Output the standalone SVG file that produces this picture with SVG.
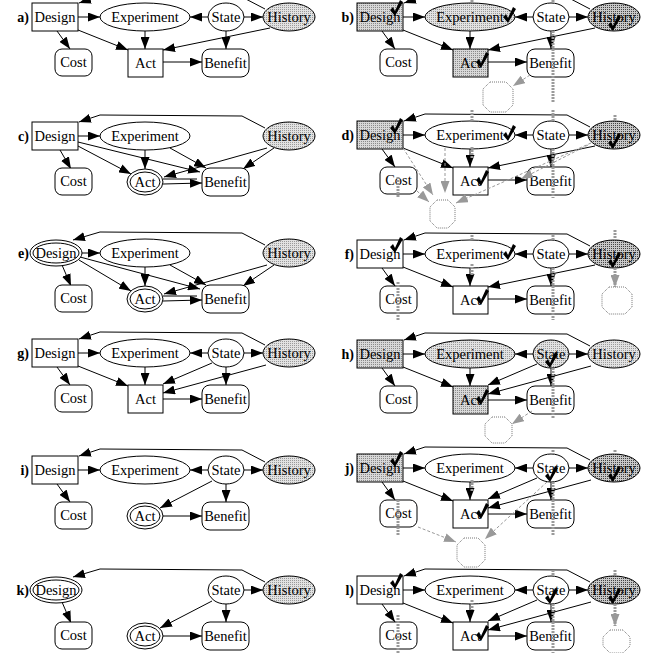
<svg xmlns="http://www.w3.org/2000/svg" width="660" height="653" viewBox="0 0 660 653">
<style>
.n{fill:#fff;stroke:#000;stroke-width:1}
.t{font-family:"Liberation Serif","Times New Roman",serif;font-size:14.5px;text-anchor:middle;fill:#000}
.lb{font-family:"Liberation Serif","Times New Roman",serif;font-size:14px;font-weight:bold;text-anchor:end;fill:#000}
.e{fill:none;stroke:#000;stroke-width:1;marker-end:url(#ah)}
.p{fill:none;stroke:#000;stroke-width:1}
.gb{fill:none;stroke:#9a9a9a;stroke-width:3;stroke-dasharray:2 1}
.gba{fill:none;stroke:#9a9a9a;stroke-width:3;stroke-dasharray:2 1;marker-end:url(#ag)}
.gd{fill:none;stroke:#999;stroke-width:1;stroke-dasharray:3 2;marker-end:url(#ag)}
.oc{fill:#fff;stroke:#777;stroke-width:1;stroke-dasharray:1 1}
</style>
<defs>
<pattern id="pl" width="2" height="2" patternUnits="userSpaceOnUse"><rect width="2" height="2" fill="#e2e2e2"/><rect width="1" height="1" fill="#9a9a9a"/></pattern>
<pattern id="pd" width="2" height="2" patternUnits="userSpaceOnUse"><rect width="2" height="2" fill="#c8c8c8"/><rect width="1" height="1" fill="#444"/></pattern>
<pattern id="pm" width="2" height="2" patternUnits="userSpaceOnUse"><rect width="2" height="2" fill="#d8d8d8"/><rect width="1" height="1" fill="#8a8a8a"/></pattern>
<marker id="ah" viewBox="0 0 12 9" markerWidth="12" markerHeight="9" refX="12" refY="4.5" orient="auto" markerUnits="userSpaceOnUse"><path d="M0,0 L12,4.5 L0,9 z" fill="#000"/></marker>
<marker id="ag" viewBox="0 0 12 9" markerWidth="12" markerHeight="9" refX="12" refY="4.5" orient="auto" markerUnits="userSpaceOnUse"><path d="M0,0 L12,4.5 L0,9 z" fill="#999"/></marker>
<path id="ck" d="M0,3 L3,0 L5,4 L10,-7 L13,-5 L5,9 Z"/>
</defs>
<rect width="660" height="653" fill="#fff"/>

<!-- a -->
<g id="panel-a" transform="translate(0,17)">
<text class="lb" x="29" y="5">a)</text>
<g id="a-connectors">
<path class="e" d="M265,-8 L242,-20 L100,-21 L79,-14"/>
<path class="e" d="M78,0 L100,0"/>
<path class="e" d="M208,0 L190,0"/>
<path class="e" d="M244,0 L263,0"/>
<path class="e" d="M57,14 L70,32"/>
<path class="e" d="M78,13 L128,33"/>
<path class="e" d="M145,14 L145,32"/>
<path class="e" d="M270,11 L163,33"/>
<path class="e" d="M226,14 L226,32"/>
<path class="e" d="M163,45 L202,45"/>
</g>
<g id="a-design"><rect class="n" x="32" y="-14" width="46" height="28"/><text class="t" x="55" y="5">Design</text></g>
<g id="a-experiment"><ellipse class="n" cx="145" cy="0" rx="45" ry="14"/><text class="t" x="145" y="5">Experiment</text></g>
<g id="a-state"><ellipse class="n" cx="226" cy="0" rx="18" ry="14"/><text class="t" x="226" y="5">State</text></g>
<g id="a-history"><ellipse class="n" cx="289" cy="0" rx="26" ry="14" style="fill:url(#pl)"/><text class="t" x="289" y="5">History</text></g>
<g id="a-cost"><rect class="n" x="55" y="32" width="37" height="27" rx="7"/><text class="t" x="73.5" y="50">Cost</text></g>
<g id="a-act"><rect class="n" x="128" y="32" width="35" height="28"/><text class="t" x="145.5" y="51">Act</text></g>
<g id="a-benefit"><rect class="n" x="202" y="32" width="47" height="28" rx="8"/><text class="t" x="225.5" y="51">Benefit</text></g>
</g>

<!-- b -->
<g id="panel-b" transform="translate(325,17)">
<text class="lb" x="29" y="5">b)</text>
<g id="b-connectors">
<path class="e" d="M265,-8 L242,-20 L100,-21 L79,-14"/>
<path class="e" d="M78,0 L100,0"/>
<path class="e" d="M208,0 L190,0"/>
<path class="e" d="M244,0 L263,0"/>
<path class="e" d="M57,14 L70,32"/>
<path class="e" d="M78,13 L128,33"/>
<path class="e" d="M145,14 L145,32"/>
<path class="e" d="M270,11 L163,33"/>
<path class="e" d="M226,14 L226,32"/>
<path class="e" d="M163,45 L202,45"/>
</g>
<g id="b-design"><rect class="n" x="32" y="-14" width="46" height="28" style="fill:url(#pm)"/><text class="t" x="55" y="5">Design</text><use href="#ck" transform="translate(65,-10)"/></g>
<g id="b-experiment"><ellipse class="n" cx="145" cy="0" rx="45" ry="14" style="fill:url(#pl)"/><text class="t" x="145" y="5">Experiment</text><use href="#ck" transform="translate(178,-3)"/></g>
<g id="b-state"><ellipse class="n" cx="226" cy="0" rx="18" ry="14"/><text class="t" x="226" y="5">State</text></g>
<g id="b-history"><ellipse class="n" cx="289" cy="0" rx="26" ry="14" style="fill:url(#pd)"/><text class="t" x="289" y="5">History</text><use href="#ck" transform="translate(283,5)"/></g>
<g id="b-cost"><rect class="n" x="55" y="32" width="37" height="27" rx="7"/><text class="t" x="73.5" y="50">Cost</text></g>
<g id="b-act"><rect class="n" x="128" y="32" width="35" height="28" style="fill:url(#pm)"/><text class="t" x="145.5" y="51">Act</text><use href="#ck" transform="translate(151,42)"/></g>
<g id="b-benefit"><rect class="n" x="202" y="32" width="47" height="28" rx="8"/><text class="t" x="225.5" y="51">Benefit</text></g>
<g id="b-utility"><polygon class="oc" points="165,65 181,65 188,72 188,88 181,95 165,95 158,88 158,72"/></g>
<g id="b-overlay">
<path class="gb" d="M147,-17 V-14 M228,-17 V-14 M228,14 V86"/>
<path class="gd" d="M205,58 L188,69"/>
</g>
</g>

<!-- c -->
<g id="panel-c" transform="translate(0,136)">
<text class="lb" x="29" y="5">c)</text>
<g id="c-connectors">
<path class="e" d="M265,-8 L242,-20 L100,-21 L79,-14"/>
<path class="e" d="M78,0 L100,0"/>
<path class="e" d="M60,14 L71,33"/>
<path class="e" d="M78,10 L131,38"/>
<path class="e" d="M78,6 L200,36"/>
<path class="e" d="M145,14 L145,33"/>
<path class="e" d="M170,12 L206,32"/>
<path class="e" d="M267,12 L164,41"/>
<path class="e" d="M274,12 L243,33"/>
<path class="p" d="M163,43 L197,43"/>
<path class="e" d="M163,48 L202,47"/>
</g>
<g id="c-design"><rect class="n" x="32" y="-14" width="46" height="28"/><text class="t" x="55" y="5">Design</text></g>
<g id="c-experiment"><ellipse class="n" cx="145" cy="0" rx="45" ry="14"/><text class="t" x="145" y="5">Experiment</text></g>
<g id="c-history"><ellipse class="n" cx="289" cy="0" rx="26" ry="14" style="fill:url(#pl)"/><text class="t" x="289" y="5">History</text></g>
<g id="c-cost"><rect class="n" x="55" y="32" width="37" height="27" rx="7"/><text class="t" x="73.5" y="50">Cost</text></g>
<g id="c-act"><ellipse class="n" cx="145" cy="46" rx="18" ry="13"/><ellipse class="n" cx="145" cy="46" rx="15" ry="10"/><text class="t" x="145" y="51">Act</text></g>
<g id="c-benefit"><rect class="n" x="202" y="32" width="47" height="28" rx="8"/><text class="t" x="225.5" y="51">Benefit</text></g>
</g>

<!-- d -->
<g id="panel-d" transform="translate(325,135)">
<text class="lb" x="29" y="5">d)</text>
<g id="d-connectors">
<path class="e" d="M265,-8 L242,-20 L100,-21 L79,-14"/>
<path class="e" d="M78,0 L100,0"/>
<path class="e" d="M208,0 L190,0"/>
<path class="e" d="M244,0 L263,0"/>
<path class="e" d="M57,14 L70,32"/>
<path class="e" d="M78,13 L128,33"/>
<path class="e" d="M145,14 L145,32"/>
<path class="e" d="M270,11 L163,33"/>
<path class="e" d="M226,14 L226,32"/>
<path class="e" d="M163,45 L202,45"/>
</g>
<g id="d-design"><rect class="n" x="32" y="-14" width="46" height="28" style="fill:url(#pm)"/><text class="t" x="55" y="5">Design</text><use href="#ck" transform="translate(65,-10)"/></g>
<g id="d-experiment"><ellipse class="n" cx="145" cy="0" rx="45" ry="14"/><text class="t" x="145" y="5">Experiment</text><use href="#ck" transform="translate(178,-3)"/></g>
<g id="d-state"><ellipse class="n" cx="226" cy="0" rx="18" ry="14"/><text class="t" x="226" y="5">State</text></g>
<g id="d-history"><ellipse class="n" cx="289" cy="0" rx="26" ry="14" style="fill:url(#pd)"/><text class="t" x="289" y="5">History</text><use href="#ck" transform="translate(283,5)"/></g>
<g id="d-cost"><rect class="n" x="55" y="32" width="37" height="27" rx="7"/><text class="t" x="73.5" y="50">Cost</text></g>
<g id="d-act"><rect class="n" x="128" y="32" width="35" height="28"/><text class="t" x="145.5" y="51">Act</text><use href="#ck" transform="translate(151,42)"/></g>
<g id="d-benefit"><rect class="n" x="202" y="32" width="47" height="28" rx="8"/><text class="t" x="225.5" y="51">Benefit</text></g>
<g id="d-utility"><polygon class="oc" points="112,65 123,65 130,72 130,86 123,93 112,93 105,86 105,72"/></g>
<g id="d-overlay">
<path class="gb" d="M147,-25 V-14 M147,12 V24 M228,-25 V-14 M228,14 V63 M290,-20 V-14 M73,42 V63"/>
<path class="gd" d="M78,13 L108,60"/>
<path class="gd" d="M120,13 L120,58"/>
<path class="gd" d="M92,56 L104,67"/>
<path class="gd" d="M266,8 L131,68"/>
<path class="gd" d="M263,10 L196,44"/>
</g>
</g>

<!-- e -->
<g id="panel-e" transform="translate(0,253)">
<text class="lb" x="29" y="5">e)</text>
<g id="e-connectors">
<path class="e" d="M265,-8 L242,-20 L100,-21 L73,-13"/>
<path class="e" d="M82,0 L100,0"/>
<path class="e" d="M62,12 L71,33"/>
<path class="e" d="M79,7 L131,38"/>
<path class="e" d="M80,4 L200,36"/>
<path class="e" d="M145,14 L145,33"/>
<path class="e" d="M170,12 L206,32"/>
<path class="e" d="M267,12 L164,41"/>
<path class="e" d="M274,12 L243,33"/>
<path class="p" d="M163,43 L197,43"/>
<path class="e" d="M163,48 L202,47"/>
</g>
<g id="e-design"><ellipse class="n" cx="56" cy="0" rx="26" ry="13"/><ellipse class="n" cx="56" cy="0" rx="23" ry="10"/><text class="t" x="56" y="5">Design</text></g>
<g id="e-experiment"><ellipse class="n" cx="145" cy="0" rx="45" ry="14"/><text class="t" x="145" y="5">Experiment</text></g>
<g id="e-history"><ellipse class="n" cx="289" cy="0" rx="26" ry="14" style="fill:url(#pl)"/><text class="t" x="289" y="5">History</text></g>
<g id="e-cost"><rect class="n" x="55" y="32" width="37" height="27" rx="7"/><text class="t" x="73.5" y="50">Cost</text></g>
<g id="e-act"><ellipse class="n" cx="145" cy="46" rx="18" ry="13"/><ellipse class="n" cx="145" cy="46" rx="15" ry="10"/><text class="t" x="145" y="51">Act</text></g>
<g id="e-benefit"><rect class="n" x="202" y="32" width="47" height="28" rx="8"/><text class="t" x="225.5" y="51">Benefit</text></g>
</g>

<!-- f -->
<g id="panel-f" transform="translate(325,254)">
<text class="lb" x="29" y="5">f)</text>
<g id="f-connectors">
<path class="e" d="M265,-8 L242,-20 L100,-21 L79,-14"/>
<path class="e" d="M78,0 L100,0"/>
<path class="e" d="M208,0 L190,0"/>
<path class="e" d="M244,0 L263,0"/>
<path class="e" d="M57,14 L70,32"/>
<path class="e" d="M78,13 L128,33"/>
<path class="e" d="M145,14 L145,32"/>
<path class="e" d="M270,11 L163,33"/>
<path class="e" d="M226,14 L226,32"/>
<path class="e" d="M163,45 L202,45"/>
</g>
<g id="f-design"><rect class="n" x="32" y="-14" width="46" height="28"/><text class="t" x="55" y="5">Design</text><use href="#ck" transform="translate(65,-10)"/></g>
<g id="f-experiment"><ellipse class="n" cx="145" cy="0" rx="45" ry="14"/><text class="t" x="145" y="5">Experiment</text><use href="#ck" transform="translate(178,-3)"/></g>
<g id="f-state"><ellipse class="n" cx="226" cy="0" rx="18" ry="14"/><text class="t" x="226" y="5">State</text></g>
<g id="f-history"><ellipse class="n" cx="289" cy="0" rx="26" ry="14" style="fill:url(#pd)"/><text class="t" x="289" y="5">History</text><use href="#ck" transform="translate(283,5)"/></g>
<g id="f-cost"><rect class="n" x="55" y="32" width="37" height="27" rx="7"/><text class="t" x="73.5" y="50">Cost</text></g>
<g id="f-act"><rect class="n" x="128" y="32" width="35" height="28"/><text class="t" x="145.5" y="51">Act</text><use href="#ck" transform="translate(151,42)"/></g>
<g id="f-benefit"><rect class="n" x="202" y="32" width="47" height="28" rx="8"/><text class="t" x="225.5" y="51">Benefit</text></g>
<g id="f-utility"><polygon class="oc" points="284,33 300,33 307,40 307,53 300,60 284,60 277,53 277,40"/></g>
<g id="f-overlay">
<path class="gb" d="M147,-19 V-14 M147,10 V22 M228,-19 V-14 M228,14 V66 M290,-24 V-14 M73,28 V66"/>
<path class="gba" d="M290,14 V33"/>
</g>
</g>

<!-- g -->
<g id="panel-g" transform="translate(0,353)">
<text class="lb" x="29" y="5">g)</text>
<g id="g-connectors">
<path class="e" d="M265,-8 L242,-20 L100,-21 L79,-14"/>
<path class="e" d="M78,0 L100,0"/>
<path class="e" d="M208,0 L190,0"/>
<path class="e" d="M244,0 L263,0"/>
<path class="e" d="M57,14 L70,32"/>
<path class="e" d="M78,13 L128,33"/>
<path class="e" d="M145,14 L145,32"/>
<path class="e" d="M212,10 L163,31"/>
<path class="e" d="M266,12 L163,40"/>
<path class="e" d="M226,14 L226,32"/>
<path class="e" d="M163,46 L202,46"/>
</g>
<g id="g-design"><rect class="n" x="32" y="-14" width="46" height="28"/><text class="t" x="55" y="5">Design</text></g>
<g id="g-experiment"><ellipse class="n" cx="145" cy="0" rx="45" ry="14"/><text class="t" x="145" y="5">Experiment</text></g>
<g id="g-state"><ellipse class="n" cx="226" cy="0" rx="18" ry="14"/><text class="t" x="226" y="5">State</text></g>
<g id="g-history"><ellipse class="n" cx="289" cy="0" rx="26" ry="14" style="fill:url(#pl)"/><text class="t" x="289" y="5">History</text></g>
<g id="g-cost"><rect class="n" x="55" y="32" width="37" height="27" rx="7"/><text class="t" x="73.5" y="50">Cost</text></g>
<g id="g-act"><rect class="n" x="128" y="32" width="35" height="28"/><text class="t" x="145.5" y="51">Act</text></g>
<g id="g-benefit"><rect class="n" x="202" y="32" width="47" height="28" rx="8"/><text class="t" x="225.5" y="51">Benefit</text></g>
</g>

<!-- h -->
<g id="panel-h" transform="translate(325,354)">
<text class="lb" x="29" y="5">h)</text>
<g id="h-connectors">
<path class="e" d="M265,-8 L242,-20 L100,-21 L79,-14"/>
<path class="e" d="M78,0 L100,0"/>
<path class="e" d="M208,0 L190,0"/>
<path class="e" d="M244,0 L263,0"/>
<path class="e" d="M57,14 L70,32"/>
<path class="e" d="M78,13 L128,33"/>
<path class="e" d="M145,14 L145,32"/>
<path class="e" d="M212,10 L163,31"/>
<path class="e" d="M266,12 L163,40"/>
<path class="e" d="M226,14 L226,32"/>
<path class="e" d="M163,46 L202,46"/>
</g>
<g id="h-design"><rect class="n" x="32" y="-14" width="46" height="28" style="fill:url(#pm)"/><text class="t" x="55" y="5">Design</text></g>
<g id="h-experiment"><ellipse class="n" cx="145" cy="0" rx="45" ry="14" style="fill:url(#pl)"/><text class="t" x="145" y="5">Experiment</text></g>
<g id="h-state"><ellipse class="n" cx="226" cy="0" rx="18" ry="14" style="fill:url(#pl)"/><text class="t" x="226" y="5">State</text><use href="#ck" transform="translate(220,5)"/></g>
<g id="h-history"><ellipse class="n" cx="289" cy="0" rx="26" ry="14" style="fill:url(#pl)"/><text class="t" x="289" y="5">History</text></g>
<g id="h-cost"><rect class="n" x="55" y="32" width="37" height="27" rx="7"/><text class="t" x="73.5" y="50">Cost</text></g>
<g id="h-act"><rect class="n" x="128" y="32" width="35" height="28" style="fill:url(#pm)"/><text class="t" x="145.5" y="51">Act</text><use href="#ck" transform="translate(151,42)"/></g>
<g id="h-benefit"><rect class="n" x="202" y="32" width="47" height="28" rx="8"/><text class="t" x="225.5" y="51">Benefit</text></g>
<g id="h-utility"><polygon class="oc" points="167,63 180,63 187,70 187,82 180,89 167,89 160,82 160,70"/></g>
<g id="h-overlay">
<path class="gb" d="M228,14 V64"/>
<path class="gd" d="M207,57 L187,70"/>
</g>
</g>

<!-- i -->
<g id="panel-i" transform="translate(0,470)">
<text class="lb" x="29" y="5">i)</text>
<g id="i-connectors">
<path class="e" d="M265,-8 L242,-20 L100,-21 L79,-14"/>
<path class="e" d="M78,0 L100,0"/>
<path class="e" d="M208,0 L190,0"/>
<path class="e" d="M244,0 L263,0"/>
<path class="e" d="M57,14 L70,32"/>
<path class="e" d="M212,11 L160,38"/>
<path class="e" d="M226,14 L226,32"/>
<path class="e" d="M163,46 L202,46"/>
</g>
<g id="i-design"><rect class="n" x="32" y="-14" width="46" height="28"/><text class="t" x="55" y="5">Design</text></g>
<g id="i-experiment"><ellipse class="n" cx="145" cy="0" rx="45" ry="14"/><text class="t" x="145" y="5">Experiment</text></g>
<g id="i-state"><ellipse class="n" cx="226" cy="0" rx="18" ry="14"/><text class="t" x="226" y="5">State</text></g>
<g id="i-history"><ellipse class="n" cx="289" cy="0" rx="26" ry="14" style="fill:url(#pl)"/><text class="t" x="289" y="5">History</text></g>
<g id="i-cost"><rect class="n" x="55" y="32" width="37" height="27" rx="7"/><text class="t" x="73.5" y="50">Cost</text></g>
<g id="i-act"><ellipse class="n" cx="145" cy="46" rx="18" ry="13"/><ellipse class="n" cx="145" cy="46" rx="15" ry="10"/><text class="t" x="145" y="51">Act</text></g>
<g id="i-benefit"><rect class="n" x="202" y="32" width="47" height="28" rx="8"/><text class="t" x="225.5" y="51">Benefit</text></g>
</g>

<!-- j -->
<g id="panel-j" transform="translate(325,468)">
<text class="lb" x="29" y="5">j)</text>
<g id="j-connectors">
<path class="e" d="M265,-8 L242,-20 L100,-21 L79,-14"/>
<path class="e" d="M78,0 L100,0"/>
<path class="e" d="M208,0 L190,0"/>
<path class="e" d="M244,0 L263,0"/>
<path class="e" d="M57,14 L70,32"/>
<path class="e" d="M78,13 L128,33"/>
<path class="e" d="M145,14 L145,32"/>
<path class="e" d="M212,10 L163,31"/>
<path class="e" d="M266,12 L163,40"/>
<path class="e" d="M226,14 L226,32"/>
<path class="e" d="M163,46 L202,46"/>
</g>
<g id="j-design"><rect class="n" x="32" y="-14" width="46" height="28" style="fill:url(#pm)"/><text class="t" x="55" y="5">Design</text><use href="#ck" transform="translate(65,-10)"/></g>
<g id="j-experiment"><ellipse class="n" cx="145" cy="0" rx="45" ry="14"/><text class="t" x="145" y="5">Experiment</text></g>
<g id="j-state"><ellipse class="n" cx="226" cy="0" rx="18" ry="14"/><text class="t" x="226" y="5">State</text><use href="#ck" transform="translate(220,5)"/></g>
<g id="j-history"><ellipse class="n" cx="289" cy="0" rx="26" ry="14" style="fill:url(#pd)"/><text class="t" x="289" y="5">History</text><use href="#ck" transform="translate(283,5)"/></g>
<g id="j-cost"><rect class="n" x="55" y="32" width="37" height="27" rx="7"/><text class="t" x="73.5" y="50">Cost</text></g>
<g id="j-act"><rect class="n" x="128" y="32" width="35" height="28"/><text class="t" x="145.5" y="51">Act</text><use href="#ck" transform="translate(151,42)"/></g>
<g id="j-benefit"><rect class="n" x="202" y="32" width="47" height="28" rx="8"/><text class="t" x="225.5" y="51">Benefit</text></g>
<g id="j-utility"><polygon class="oc" points="139,70 153,70 160,77 160,92 153,99 139,99 132,92 132,77"/></g>
<g id="j-overlay">
<path class="gb" d="M147,12 V24 M228,-18 V-14 M228,14 V67 M290,-18 V-14 M73,32 V67"/>
<path class="gd" d="M93,59 L131,74"/>
<path class="gd" d="M222,14 L160,71"/>
</g>
</g>

<!-- k -->
<g id="panel-k" transform="translate(0,590)">
<text class="lb" x="29" y="5">k)</text>
<g id="k-connectors">
<path class="e" d="M265,-8 L242,-20 L100,-21 L73,-13"/>
<path class="e" d="M62,12 L71,33"/>
<path class="e" d="M244,0 L263,0"/>
<path class="e" d="M212,11 L160,38"/>
<path class="e" d="M226,14 L226,32"/>
<path class="e" d="M163,46 L202,46"/>
</g>
<g id="k-design"><ellipse class="n" cx="56" cy="0" rx="26" ry="13"/><ellipse class="n" cx="56" cy="0" rx="23" ry="10"/><text class="t" x="56" y="5">Design</text></g>
<g id="k-state"><ellipse class="n" cx="226" cy="0" rx="18" ry="14"/><text class="t" x="226" y="5">State</text></g>
<g id="k-history"><ellipse class="n" cx="289" cy="0" rx="26" ry="14" style="fill:url(#pl)"/><text class="t" x="289" y="5">History</text></g>
<g id="k-cost"><rect class="n" x="55" y="32" width="37" height="27" rx="7"/><text class="t" x="73.5" y="50">Cost</text></g>
<g id="k-act"><ellipse class="n" cx="145" cy="46" rx="18" ry="13"/><ellipse class="n" cx="145" cy="46" rx="15" ry="10"/><text class="t" x="145" y="51">Act</text></g>
<g id="k-benefit"><rect class="n" x="202" y="32" width="47" height="28" rx="8"/><text class="t" x="225.5" y="51">Benefit</text></g>
</g>

<!-- l -->
<g id="panel-l" transform="translate(325,590)">
<text class="lb" x="29" y="5">l)</text>
<g id="l-connectors">
<path class="e" d="M265,-8 L242,-20 L100,-21 L79,-14"/>
<path class="e" d="M78,0 L100,0"/>
<path class="e" d="M208,0 L190,0"/>
<path class="e" d="M244,0 L263,0"/>
<path class="e" d="M57,14 L70,32"/>
<path class="e" d="M78,13 L128,33"/>
<path class="e" d="M145,14 L145,32"/>
<path class="e" d="M212,10 L163,31"/>
<path class="e" d="M266,12 L163,40"/>
<path class="e" d="M226,14 L226,32"/>
<path class="e" d="M163,46 L202,46"/>
</g>
<g id="l-design"><rect class="n" x="32" y="-14" width="46" height="28"/><text class="t" x="55" y="5">Design</text><use href="#ck" transform="translate(65,-10)"/></g>
<g id="l-experiment"><ellipse class="n" cx="145" cy="0" rx="45" ry="14"/><text class="t" x="145" y="5">Experiment</text></g>
<g id="l-state"><ellipse class="n" cx="226" cy="0" rx="18" ry="14"/><text class="t" x="226" y="5">State</text><use href="#ck" transform="translate(220,5)"/></g>
<g id="l-history"><ellipse class="n" cx="289" cy="0" rx="26" ry="14" style="fill:url(#pd)"/><text class="t" x="289" y="5">History</text><use href="#ck" transform="translate(283,5)"/></g>
<g id="l-cost"><rect class="n" x="55" y="32" width="37" height="27" rx="7"/><text class="t" x="73.5" y="50">Cost</text></g>
<g id="l-act"><rect class="n" x="128" y="32" width="35" height="28"/><text class="t" x="145.5" y="51">Act</text><use href="#ck" transform="translate(151,42)"/></g>
<g id="l-benefit"><rect class="n" x="202" y="32" width="47" height="28" rx="8"/><text class="t" x="225.5" y="51">Benefit</text></g>
<g id="l-utility"><polygon class="oc" points="285,40 298,40 305,47 305,56 298,63 285,63 278,56 278,47"/></g>
<g id="l-overlay">
<path class="gb" d="M147,10 V20 M228,-20 V-14 M228,14 V63 M290,-20 V-14 M73,25 V63"/>
<path class="gba" d="M290,14 V36"/>
</g>
</g>
</svg>
